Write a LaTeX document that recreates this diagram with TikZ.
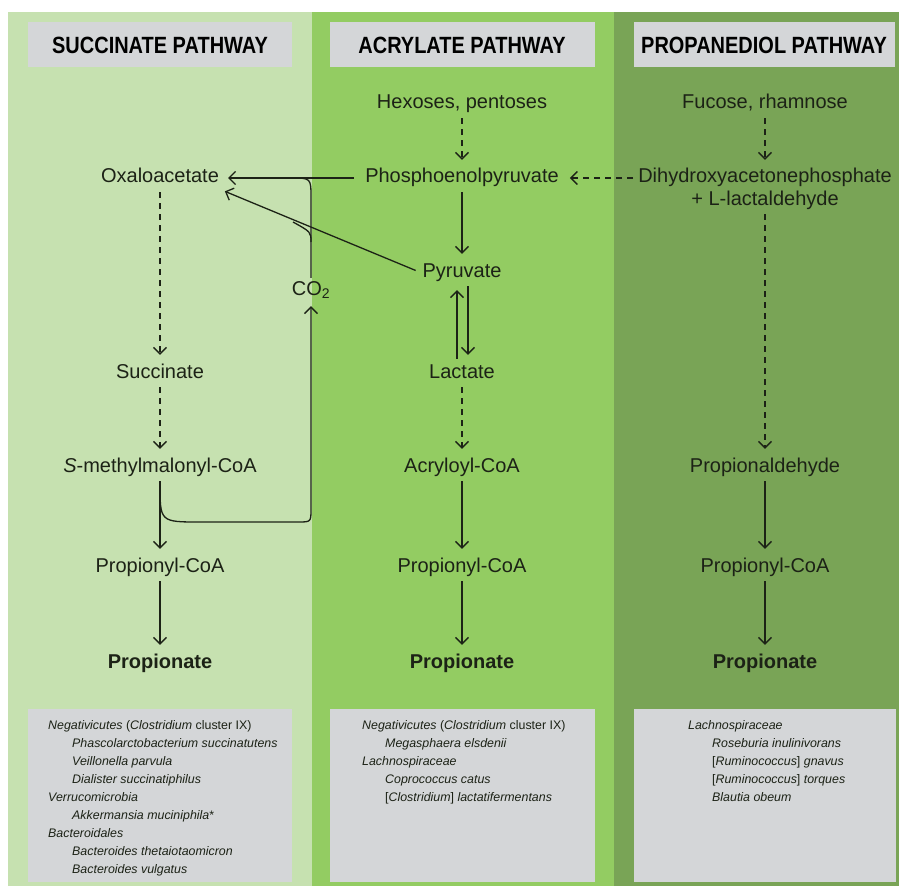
\documentclass[tikz,border=0pt]{standalone}
\usepackage{fontspec}
\setmainfont{Liberation Sans}
\newfontfamily\headfont[FakeStretch=0.85]{Liberation Sans}
\usetikzlibrary{arrows.meta,calc}

\definecolor{sucgreen}{RGB}{198,225,176}
\definecolor{acrgreen}{RGB}{147,204,98}
\definecolor{prdgreen}{RGB}{121,164,86}
\definecolor{panelgray}{RGB}{212,214,216}
\definecolor{ink}{RGB}{28,34,22}

\tikzset{
  lbl/.style={font=\fontsize{20}{24}\selectfont, text=ink, inner sep=3pt, text height=14pt, text depth=4pt},
  head/.style={font=\headfont\bfseries\fontsize{23.5}{28}\selectfont, text=black},
  spp/.style={font=\fontsize{12.4}{18}\selectfont, text=ink, inner sep=0pt, anchor=base west},
  arr/.style={draw=ink, line width=1.3pt, -{Straight Barb[length=6.5pt,width=13pt]}, shorten <=2pt, shorten >=6pt},
  darr/.style={arr, dash pattern=on 6pt off 5pt},
  link/.style={draw=ink, line width=1.3pt},
}

\begin{document}
\begin{tikzpicture}[x=1pt,y=-1pt]
	\useasboundingbox (0,0) rectangle (903,888);
	% columns
	\fill[sucgreen] (8,12) rectangle (312,886);
	\fill[acrgreen] (312,12) rectangle (614,886);
	\fill[prdgreen] (614,12) rectangle (899,886);

	% headers
	\fill[panelgray] (28,22) rectangle (292,67);
	\fill[panelgray] (330,22) rectangle (595,67);
	\fill[panelgray] (634,22) rectangle (895,67);
	\node[head] (hsuc) at (160,45) {SUCCINATE PATHWAY};
	\node[head] (hacr) at (462,45) {ACRYLATE PATHWAY};
	\node[head] (hprd) at (764,45) {PROPANEDIOL PATHWAY};

	% succinate pathway
	\node[lbl] (oxa) at (160,178) {Oxaloacetate};
	\node[lbl] (suc) at (160,373) {Succinate};
	\node[lbl] (smca) at (160,467) {\textit{S}-methylmalonyl-CoA};
	\node[lbl] (ppc1) at (160,567) {Propionyl-CoA};
	\node[lbl] (prp1) at (160,663) {\textbf{Propionate}};
	\node[lbl] (co2) at (311,290) {CO\textsubscript{2}};

	% acrylate pathway
	\node[lbl] (hex) at (462,104) {Hexoses, pentoses};
	\node[lbl] (pep) at (462,178) {Phosphoenolpyruvate};
	\node[lbl] (pyr) at (462,272) {Pyruvate};
	\node[lbl] (lac) at (462,373) {Lactate};
	\node[lbl] (acr) at (462,467) {Acryloyl-CoA};
	\node[lbl] (ppc2) at (462,567) {Propionyl-CoA};
	\node[lbl] (prp2) at (462,663) {\textbf{Propionate}};

	% propanediol pathway
	\node[lbl] (fuc) at (765,104) {Fucose, rhamnose};
	\node[lbl] (dhap) at (765,178) {Dihydroxyacetonephosphate};
	\node[lbl] (lald) at (765,200) {+ L-lactaldehyde};
	\node[lbl] (pald) at (765,467) {Propionaldehyde};
	\node[lbl] (ppc3) at (765,567) {Propionyl-CoA};
	\node[lbl] (prp3) at (765,663) {\textbf{Propionate}};

	% arrows
	\draw[darr] (oxa) -- (suc);
	\draw[darr] (suc) -- (smca);
	\draw[arr] (smca) -- (ppc1);
	\draw[arr] (ppc1) -- (prp1);

	\draw[darr] (hex) -- (pep);
	\draw[arr] (pep) -- (pyr);
	\draw[arr] ([xshift=-5pt]lac.north) -- ([xshift=-5pt]pyr.south);
	\draw[arr] ([xshift=6pt]pyr.south) -- ([xshift=6pt]lac.north);
	\draw[darr] (lac) -- (acr);
	\draw[arr] (acr) -- (ppc2);
	\draw[arr] (ppc2) -- (prp2);

	\draw[darr] (fuc) -- (dhap);
	\draw[darr] (lald) -- (pald);
	\draw[arr] (pald) -- (ppc3);
	\draw[arr] (ppc3) -- (prp3);

	\draw[darr, shorten >=8pt] (dhap.west) -- (pep.east);
	\draw[arr, shorten <=8pt] (pep.west) -- (oxa.east);
	\draw[arr, shorten <=4pt, shorten >=3pt] (pyr.west) -- (oxa.south east);

	% CO2 loop
	\coordinate (fork) at ($(smca.south)+(0,4)$);
	\draw[arr, shorten <=0pt, shorten >=4pt] (fork) .. controls (160,522) and (160,522) .. (200,522) -- (298,522)
		.. controls (311,522) .. (311,509) -- (co2.south);
	\draw[link] (co2.north) -- (311,198) .. controls (311,178) .. (291,178);
	\draw[link] (311,242) .. controls (311,232) .. (293,222);

	% organisms
	\fill[panelgray] (28,709) rectangle (292,882);
	\fill[panelgray] (330,709) rectangle (595,882);
	\fill[panelgray] (634,709) rectangle (896,882);
	\foreach \xx/\txt [count=\i] in {
		48/{\textit{Negativicutes} (\textit{Clostridium} cluster IX)},
		72/{\textit{Phascolarctobacterium succinatutens}},
		72/{\textit{Veillonella parvula}},
		72/{\textit{Dialister succinatiphilus}},
		48/{\textit{Verrucomicrobia}},
		72/{\textit{Akkermansia muciniphila}*},
		48/{\textit{Bacteroidales}},
		72/{\textit{Bacteroides thetaiotaomicron}},
		72/{\textit{Bacteroides vulgatus}}}
		\node[spp] (sucsp\i) at (\xx,711+18*\i) {\txt};
	\foreach \xx/\txt [count=\i] in {
		362/{\textit{Negativicutes} (\textit{Clostridium} cluster IX)},
		385/{\textit{Megasphaera elsdenii}},
		362/{\textit{Lachnospiraceae}},
		385/{\textit{Coprococcus catus}},
		385/{[\textit{Clostridium}] \textit{lactatifermentans}}}
		\node[spp] (acrsp\i) at (\xx,711+18*\i) {\txt};
	\foreach \xx/\txt [count=\i] in {
		688/{\textit{Lachnospiraceae}},
		712/{\textit{Roseburia inulinivorans}},
		712/{[\textit{Ruminococcus}] \textit{gnavus}},
		712/{[\textit{Ruminococcus}] \textit{torques}},
		712/{\textit{Blautia obeum}}}
		\node[spp] (prdsp\i) at (\xx,711+18*\i) {\txt};
\end{tikzpicture}
\end{document}
